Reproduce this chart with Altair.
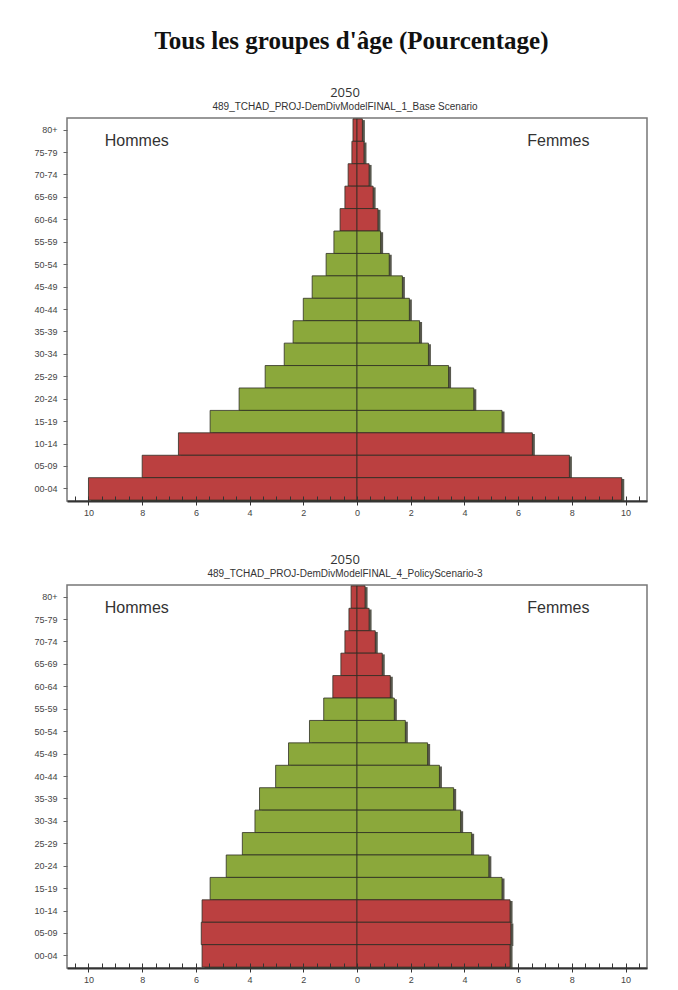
import altair as alt
import pandas as pd

ages = ["80+", "75-79", "70-74", "65-69", "60-64", "55-59", "50-54", "45-49",
        "40-44", "35-39", "30-34", "25-29", "20-24", "15-19", "10-14", "05-09", "00-04"]
red_groups = ["80+", "75-79", "70-74", "65-69", "60-64", "10-14", "05-09", "00-04"]

men_base = [0.15, 0.19, 0.33, 0.45, 0.63, 0.86, 1.15, 1.67, 2.0, 2.38, 2.71, 3.42, 4.39, 5.47, 6.65, 8.0, 10.0]
women_base = [0.2, 0.26, 0.45, 0.6, 0.78, 0.88, 1.2, 1.69, 1.95, 2.33, 2.66, 3.41, 4.35, 5.4, 6.53, 7.91, 9.86]

men_policy = [0.22, 0.3, 0.45, 0.6, 0.9, 1.24, 1.77, 2.55, 3.03, 3.63, 3.8, 4.27, 4.87, 5.47, 5.77, 5.8, 5.77]
women_policy = [0.3, 0.45, 0.68, 0.94, 1.24, 1.39, 1.8, 2.63, 3.07, 3.6, 3.86, 4.27, 4.91, 5.4, 5.7, 5.73, 5.7]

major_ticks = [-10, -8, -6, -4, -2, 0, 2, 4, 6, 8, 10]
minor_ticks = [v / 2 for v in range(-21, 22)]

RED = "#bb4040"
GREEN = "#8ba83b"
W, H = 580, 383


def build_df(men, women):
    rows = []
    for a, m, w in zip(ages, men, women):
        grp = "r" if a in red_groups else "g"
        rows.append({"age": a, "value": -m, "sex": "Hommes", "grp": grp})
        rows.append({"age": a, "value": w, "sex": "Femmes", "grp": grp})
    return pd.DataFrame(rows)


def panel(men, women, subtitle):
    df = build_df(men, women)
    xscale = alt.Scale(domain=[-10.8, 10.8], nice=False, zero=False)
    yscale = alt.Scale(paddingInner=0, paddingOuter=0.04)
    y_enc = alt.Y("age:N", sort=ages, scale=yscale, title=None,
                  axis=alt.Axis(labelFontSize=9, labelColor="#444", labelFont="Liberation Sans",
                                tickSize=4, tickColor="#666", domain=False, labelPadding=6))
    color_enc = alt.Color("grp:N", scale=alt.Scale(domain=["r", "g"], range=[RED, GREEN]), legend=None)

    shadow = alt.Chart(df).mark_bar(color="#3c3c30", xOffset=2.5, yOffset=1.2, opacity=0.85).encode(
        x=alt.X("value:Q", scale=xscale, title=None,
                axis=alt.Axis(values=minor_ticks, labels=False, domain=False, grid=False,
                              tickSize=5, tickColor="#333", offset=-5, orient="bottom", zindex=1)),
        y=y_enc,
    ).properties(width=W, height=H)
    bars = alt.Chart(df).mark_bar(stroke="#2f2f25", strokeWidth=0.8).encode(
        x=alt.X("value:Q", scale=xscale, title=None,
                axis=alt.Axis(values=major_ticks, labelExpr="abs(datum.value)", labelFontSize=9,
                              labelColor="#444", labelFont="Liberation Sans", grid=False,
                              tickSize=4, tickColor="#333", domainColor="#333", domainWidth=2,
                              orient="bottom", labelPadding=3)),
        y=y_enc,
        color=color_enc,
    ).properties(width=W, height=H)
    zero = alt.Chart(df).mark_rule(color="#2a3a1a", strokeWidth=1).encode(
        x=alt.X("zero:Q", scale=xscale, axis=None), y=y_enc
    ).transform_calculate(zero="0").properties(width=W, height=H)
    labels_df = pd.DataFrame({"sex": ["Hommes", "Femmes"], "pos": [-8.2, 7.5], "age": ["80+", "80+"]})
    texts = alt.Chart(labels_df).mark_text(fontSize=16, font="Liberation Sans", color="#333",
                                           baseline="middle", dy=11).encode(
        x=alt.X("pos:Q", scale=xscale, axis=None),
        y=y_enc,
        text="sex:N",
    ).properties(width=W, height=H)
    return alt.layer(shadow, bars, zero, texts).resolve_axis(x="independent").properties(
        title=alt.TitleParams(text="2050", subtitle=subtitle, fontSize=13, fontWeight="normal",
                              font="Open Sans", color="#333", subtitleFontSize=10,
                              subtitleFont="Liberation Sans", subtitleColor="#333",
                              subtitlePadding=2, offset=6, anchor="middle", dx=-12),
    )


top = panel(men_base, women_base, "489_TCHAD_PROJ-DemDivModelFINAL_1_Base Scenario")
bottom = panel(men_policy, women_policy, "489_TCHAD_PROJ-DemDivModelFINAL_4_PolicyScenario-3")

chart = alt.vconcat(top, bottom, spacing=35).properties(
    title=alt.TitleParams(text="Tous les groupes d'âge (Pourcentage)", font="Liberation Serif",
                          fontSize=25, fontWeight="bold", color="#111", offset=32, anchor="middle",
                          dx=11),
    padding={"left": 25, "top": 21, "right": 5, "bottom": 5},
).configure_view(stroke="#777", strokeWidth=1.5)

chart.save("out.html", embed_options={"renderer": "svg", "actions": False})
